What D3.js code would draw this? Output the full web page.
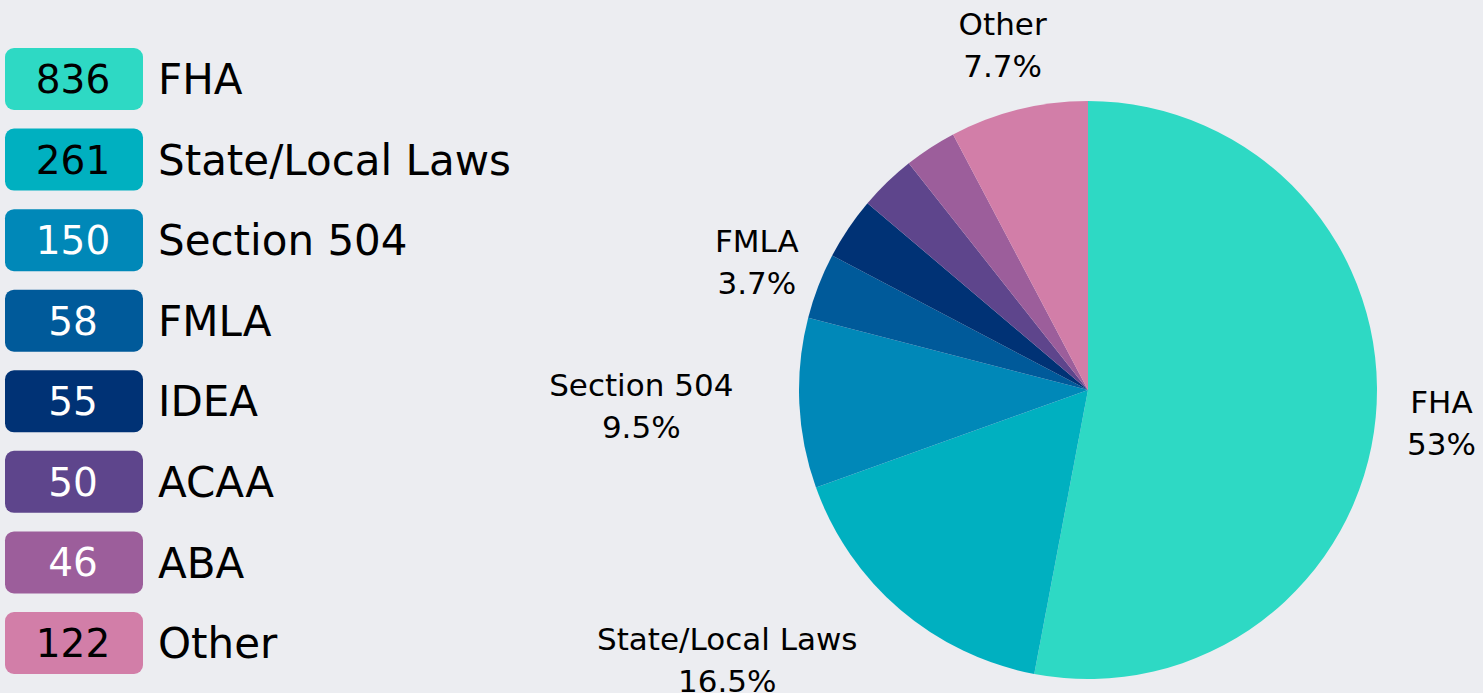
<!DOCTYPE html>
<html>
<head>
<meta charset="utf-8">
<script src="https://cdn.jsdelivr.net/npm/d3@7"></script>
<style>
  html, body { margin: 0; padding: 0; background: #ecedf1; }
  svg { display: block; font-family: "DejaVu Sans", sans-serif; }
</style>
</head>
<body>
<svg id="chart" width="1483" height="693"></svg>
<script>
const categories = ["FHA", "State/Local Laws", "Section 504", "FMLA", "IDEA", "ACAA", "ABA", "Other"];
const counts = [836, 261, 150, 58, 55, 50, 46, 122];
const colors = ["#2ed9c4", "#00b0c0", "#0088b8", "#005a9a", "#003275", "#5e458c", "#9c5e9b", "#d27ea8"];

const W = 1483, H = 693;
const svg = d3.select("#chart");
svg.append("rect").attr("width", W).attr("height", H).attr("fill", "#ecedf1");

const data = categories.map((c, i) => ({ name: c, value: counts[i], color: colors[i] }));
const total = d3.sum(counts);

// Legend
const rowY = d3.scalePoint().domain(categories).range([48, 612]);
const legend = svg.append("g");
const rows = legend.selectAll("g.row").data(data).join("g")
  .attr("class", "row")
  .attr("transform", d => `translate(5,${rowY(d.name)})`);
rows.append("rect")
  .attr("width", 138).attr("height", 62).attr("rx", 9).attr("ry", 9)
  .attr("fill", d => d.color);
rows.append("text")
  .attr("x", 68).attr("y", 31).attr("dy", "0.36em")
  .attr("text-anchor", "middle")
  .attr("font-size", 39)
  .attr("fill", d => d3.hcl(d.color).l > 58 ? "#000" : "#fff")
  .text(d => d.value);
rows.append("text")
  .attr("x", 153).attr("y", 31).attr("dy", "0.36em")
  .attr("font-size", 42)
  .attr("fill", "#000")
  .text(d => d.name);

// Pie
const cx = 1088, cy = 390, R = 289, LR = 355;
const pie = d3.pie().value(d => d.value).sort(null);
const arcs = pie(data);
const arc = d3.arc().innerRadius(0).outerRadius(R);
const g = svg.append("g").attr("transform", `translate(${cx},${cy})`);
g.selectAll("path").data(arcs).join("path")
  .attr("d", arc)
  .attr("fill", d => d.data.color);

const fmt = v => {
  const s = (v * 100).toFixed(1);
  return (s.endsWith(".0") ? s.slice(0, -2) : s) + "%";
};

const labelArc = d3.arc().innerRadius(LR).outerRadius(LR);
const labeled = arcs.filter(d => d.data.value / total > 0.035);
labeled.forEach(d => {
  const [x, y] = labelArc.centroid(d);
  const t = g.append("text").attr("font-size", 31).attr("fill", "#000")
    .attr("text-anchor", "middle");
  const s1 = t.append("tspan").attr("x", x).attr("y", y - 10).text(d.data.name);
  const s2 = t.append("tspan").attr("x", x).attr("y", y + 32).text(fmt(d.data.value / total));
  const bb = t.node().getBBox();
  const nx = Math.max(bb.x, Math.min(0, bb.x + bb.width));
  const ny = Math.max(bb.y, Math.min(0, bb.y + bb.height));
  if (Math.hypot(nx, ny) < R) {
    const nxp = x < 0 ? x - bb.width / 2 : x + bb.width / 2;
    s1.attr("x", nxp);
    s2.attr("x", nxp);
  }
});
</script>
</body>
</html>
